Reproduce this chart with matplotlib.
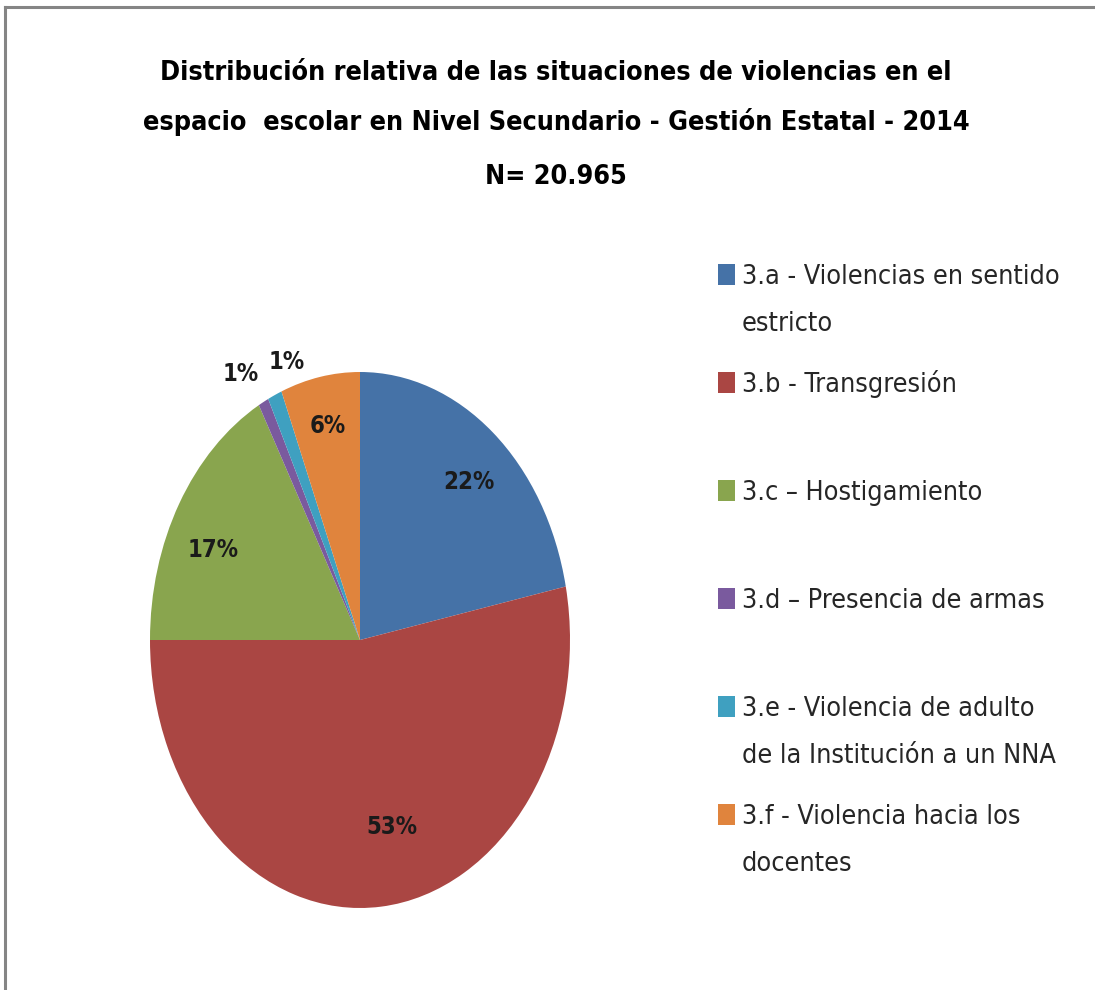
import matplotlib
matplotlib.use("Agg")
import matplotlib.pyplot as plt
from matplotlib.patches import Rectangle
from matplotlib.lines import Line2D
import matplotlib.transforms as mtransforms
import numpy as np

# ---------------- data ----------------
title_lines = [
    "Distribución relativa de las situaciones de violencias en el",
    "espacio  escolar en Nivel Secundario - Gestión Estatal - 2014",
    "N= 20.965",
]
categories = [
    "3.a - Violencias en sentido\nestricto",
    "3.b - Transgresión",
    "3.c – Hostigamiento",
    "3.d – Presencia de armas",
    "3.e - Violencia de adulto\nde la Institución a un NNA",
    "3.f - Violencia hacia los\ndocentes",
]
values = [21.8, 53.2, 17.0, 0.8, 1.1, 6.1]
colors = ["#4572A7", "#AA4643", "#89A54E", "#7A5A9E", "#3FA0C0", "#E0843D"]

# label placement (style): radius and angular offset from wedge middle
label_r = [0.79, 0.707, 0.78, 1.15, 1.10, 0.82]
label_dtheta = [-2.0, 6.6, 4.5, 2.3, -5.3, -0.3]

FONT = ["DejaVu Sans"]
STRETCH = "condensed"
W, H = 1095, 990
fig = plt.figure(figsize=(W / 100, H / 100), dpi=100)
fig.patch.set_facecolor("white")
renderer = fig.canvas.get_renderer()


def fy(y):
    return 1 - y / H


def fit_size(s, width_px, weight="normal"):
    t = fig.text(0, 0, s, fontsize=20, family=FONT, fontweight=weight,
                 fontstretch=STRETCH)
    w = t.get_window_extent(renderer).width
    t.remove()
    return 20 * width_px / w


def cap_px(fs):
    return 0.729 * fs * 100 / 72


# ---------------- border ----------------
fig.add_artist(Line2D([5 / W, 1], [fy(7), fy(7)], transform=fig.transFigure,
                      color="#858585", lw=2.2))
fig.add_artist(Line2D([5 / W, 5 / W], [0, fy(7)], transform=fig.transFigure,
                      color="#858585", lw=2.2))

# ---------------- title ----------------
title_widths = [796, 832, 138]
title_baselines = [80, 130, 184]
fs_title = fit_size(title_lines[0], title_widths[0], "bold")
for line, base in zip(title_lines, title_baselines):
    fig.text(556 / W, fy(base), line, ha="center", va="baseline",
             fontsize=fs_title, fontweight="bold", family=FONT,
             fontstretch=STRETCH, color="#000000")

# ---------------- pie ----------------
ax = fig.add_axes([150 / W, 82 / H, 420 / W, 536 / H])
wedges, _ = ax.pie(values, colors=colors, startangle=90, counterclock=False,
                   wedgeprops=dict(linewidth=0))
ax.set_aspect("auto")
ax.set_xlim(-1, 1)
ax.set_ylim(-1, 1)
ax.axis("off")

fs_pct = fit_size("22%", 51, "bold")
off = mtransforms.offset_copy(ax.transData, fig=fig, y=-cap_px(fs_pct) / 2,
                              units="dots")
for w, v, r, dt in zip(wedges, values, label_r, label_dtheta):
    mid = np.deg2rad((w.theta1 + w.theta2) / 2 + dt)
    ax.text(r * np.cos(mid), r * np.sin(mid), f"{v:.0f}%", transform=off,
            ha="center", va="baseline", fontsize=fs_pct, fontweight="bold",
            family=FONT, fontstretch=STRETCH, color="#1a1a1a", clip_on=False)

# ---------------- legend ----------------
fs_leg = fit_size("3.a - Violencias en sentido", 318)
cap_leg = cap_px(fs_leg)
entry_y0, entry_pitch, line_pitch = 274, 108, 47
for i, (lab, col) in enumerate(zip(categories, colors)):
    cy = entry_y0 + i * entry_pitch
    fig.add_artist(Rectangle((718 / W, fy(cy + 10.5)), 17 / W, 21 / H,
                             transform=fig.transFigure, facecolor=col,
                             edgecolor="none"))
    for k, part in enumerate(lab.split("\n")):
        base = cy + cap_leg / 2 + k * line_pitch
        fig.text(742 / W, fy(base), part, ha="left", va="baseline",
                 fontsize=fs_leg, family=FONT, fontstretch=STRETCH,
                 color="#262626")

fig.savefig("out.png", dpi=100, facecolor="white")
